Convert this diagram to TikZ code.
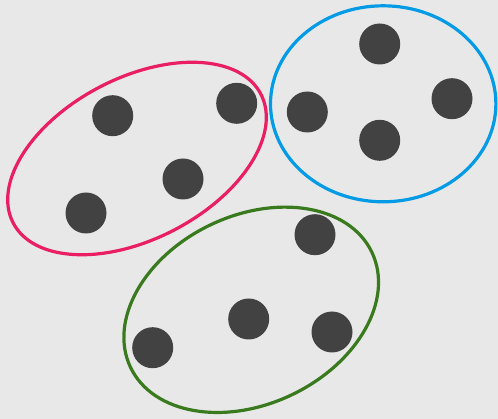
\documentclass[tikz,border=0pt]{standalone}
\definecolor{bg}{HTML}{E8E8E8}
\definecolor{dotc}{HTML}{424242}
\definecolor{pinkc}{HTML}{E91E63}
\definecolor{bluec}{HTML}{039BE5}
\definecolor{greenc}{HTML}{3A7A1E}
\begin{document}
\begin{tikzpicture}[x=1pt,y=-1pt,
  dot/.style={circle,fill=dotc,inner sep=0pt,minimum size=41pt},
  ring/.style={line width=3.2pt}]
\fill[bg] (0,0) rectangle (498,419);
\useasboundingbox (0,0) rectangle (498,419);
% pink group
\draw[ring,pinkc] (137,158.5) ellipse [x radius=139.6, y radius=80.6, rotate=27.5];
\node[dot] (p1) at (112.7,115.7) {};
\node[dot] (p2) at (236.7,103.3) {};
\node[dot] (p3) at (183,179) {};
\node[dot] (p4) at (86,213) {};
% blue group
\draw[ring,bluec] (383.2,103.8) ellipse [x radius=112.7, y radius=98];
\node[dot] (b1) at (379.7,44) {};
\node[dot] (b2) at (307.3,112) {};
\node[dot] (b3) at (452,98.7) {};
\node[dot] (b4) at (379.7,140.3) {};
% green group
\draw[ring,greenc] (251.2,309.8) ellipse [x radius=133.7, y radius=94.2, rotate=25.5];
\node[dot] (g1) at (315,234.7) {};
\node[dot] (g2) at (248.7,319) {};
\node[dot] (g3) at (332,332) {};
\node[dot] (g4) at (152.7,347.7) {};
\end{tikzpicture}
\end{document}
